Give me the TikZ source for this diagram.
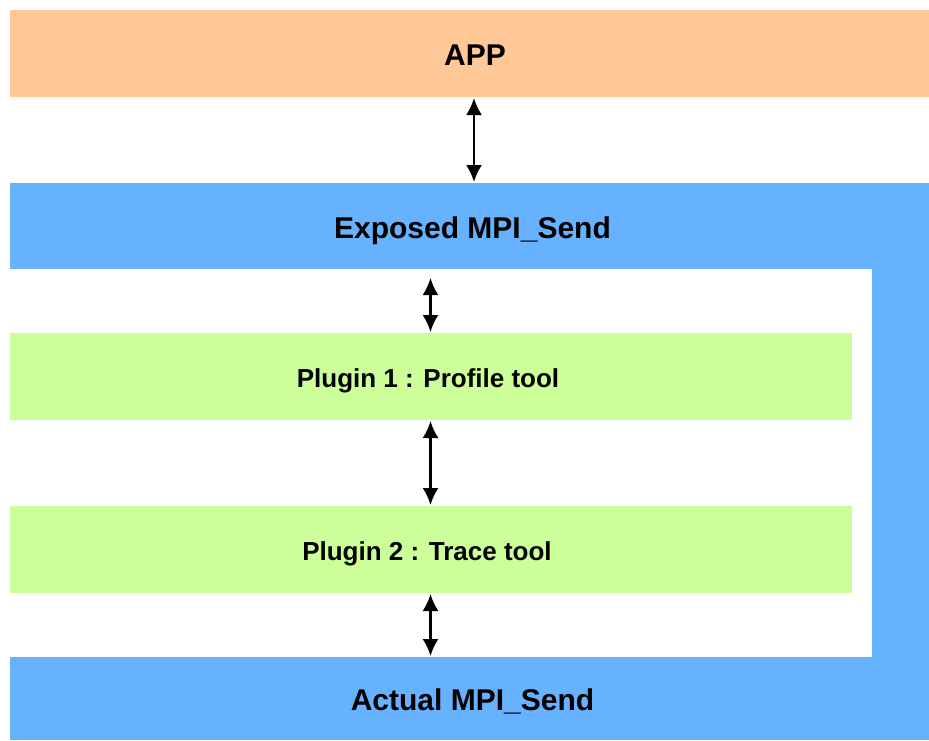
\documentclass[tikz,border=0pt]{standalone}
\usepackage{fontspec}
\setmainfont{Liberation Sans}
\usetikzlibrary{arrows.meta}
\definecolor{peach}{HTML}{FFC896}
\definecolor{mpiblue}{HTML}{66B2FF}
\definecolor{plugreen}{HTML}{CCFF99}
\tikzset{
  layerbox/.style={inner sep=0pt, outer sep=0pt, anchor=north west, text depth=0pt, font=\bfseries\fontsize{30}{34}\selectfont},
  plugbox/.style={layerbox, fill=plugreen, font=\bfseries\fontsize{26}{30}\selectfont},
  arr/.style={line width=2.3pt, {Latex[width=16pt,length=17pt]}-{Latex[width=16pt,length=17pt]}, shorten >=1pt, shorten <=1pt}
}
\begin{document}
\begin{tikzpicture}[x=1pt,y=-1pt]
\useasboundingbox (0,0) rectangle (929,740);
\fill[white] (0,0) rectangle (929,740);
% blue side bar
\fill[mpiblue] (872,183) rectangle (929,740);
\node[layerbox, fill=peach, text height=23.5pt, minimum width=919pt, minimum height=87pt] (app) at (10,10) {\hspace*{11pt}APP};
\node[layerbox, fill=mpiblue, text height=25pt, minimum width=919pt, minimum height=86pt] (exposed) at (10,183) {\hspace*{6pt}Exposed MPI\_Send};
\node[plugbox, text height=21.5pt, minimum width=842pt, minimum height=87pt] (p1) at (10,333) {\hspace*{-6pt}Plugin 1 : Profile tool};
\node[plugbox, text height=21.5pt, minimum width=842pt, minimum height=87pt] (p2) at (10,506) {\hspace*{-8pt}Plugin 2 : Trace tool};
\node[layerbox, fill=mpiblue, text height=24pt, minimum width=919pt, minimum height=83pt] (actual) at (10,657) {\hspace*{6pt}Actual MPI\_Send};
\draw[arr] ([xshift=4.5pt]app.south) -- ([xshift=4.5pt]exposed.north);
\draw[arr] ([xshift=-0.5pt]p1.north) ++(0,-56) -- ([xshift=-0.5pt]p1.north);
\draw[arr] ([xshift=-0.5pt]p1.south) -- ([xshift=-0.5pt]p2.north);
\draw[arr] ([xshift=-0.5pt]p2.south) -- ([xshift=-0.5pt]p2.south |- actual.north);
\end{tikzpicture}
\end{document}
